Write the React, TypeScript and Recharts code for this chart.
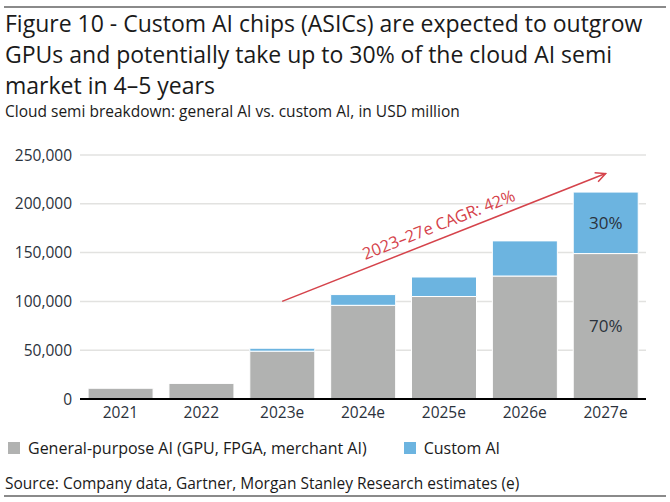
import { BarChart, Bar, XAxis, YAxis, CartesianGrid, ReferenceLine, LabelList } from 'recharts';

const years = ['2021', '2022', '2023e', '2024e', '2025e', '2026e', '2027e'];
const generalAI = [11000, 16000, 49000, 96000, 105000, 126000, 149000];
const customAI = [0, 0, 3000, 11000, 20000, 36000, 63000];
const generalShare = ['', '', '', '', '', '', '70%'];
const customShare = ['', '', '', '', '', '', '30%'];
const yTicks = [0, 50000, 100000, 150000, 200000, 250000];

const cagrStart = { x: '2023e', y: 100000 };
const cagrEnd = { x: '2027e', y: 231000 };
const cagrText = '2023–27e CAGR: 42%';

const data = years.map((year, i) => ({
  year,
  general: generalAI[i],
  custom: customAI[i],
  generalLabel: generalShare[i],
  customLabel: customShare[i],
}));

const FONT = '"Open Sans", sans-serif';
const GREY = '#b1b2b1';
const BLUE = '#6cb4e0';
const RED = '#d5434b';
const INK = '#2b323c';

const CagrArrow = (props: any) => {
  const { x1, y1, x2, y2 } = props;
  const angle = Math.atan2(y2 - y1, x2 - x1);
  const deg = (angle * 180) / Math.PI;
  const head = 11;
  const spread = 0.45;
  const ax = x2 - head * Math.cos(angle - spread);
  const ay = y2 - head * Math.sin(angle - spread);
  const bx = x2 - head * Math.cos(angle + spread);
  const by = y2 - head * Math.sin(angle + spread);
  const mx = x1 + (x2 - x1) * 0.5;
  const my = y1 + (y2 - y1) * 0.5;
  return (
    <g>
      <line x1={x1} y1={y1} x2={x2} y2={y2} stroke={RED} strokeWidth={1.5} />
      <polyline points={`${ax},${ay} ${x2},${y2} ${bx},${by}`} fill="none" stroke={RED} strokeWidth={1.5} />
      <text
        x={mx}
        y={my}
        dy={-8}
        textAnchor="middle"
        fill={RED}
        fontSize={16.5}
        fontFamily={FONT}
        transform={`rotate(${deg} ${mx} ${my})`}
      >
        {cagrText}
      </text>
    </g>
  );
};

export default function App() {
  return (
    <div style={{ position: 'absolute', left: 0, top: 0, width: 670, height: 502, background: '#fff', fontFamily: FONT, color: '#1a1a1a' }}>
      <div style={{ position: 'absolute', left: 4, top: 6, width: 662, height: 2, background: '#8a8a8a' }} />
      <div style={{ position: 'absolute', left: 5, top: 8, fontSize: 23, lineHeight: '31px', width: 660 }}>
        Figure 10 - Custom AI chips (ASICs) are expected to outgrow<br />
        GPUs and potentially take up to 30% of the cloud AI semi<br />
        market in 4–5 years
      </div>
      <div style={{ position: 'absolute', left: 5, top: 102, fontSize: 15.5, lineHeight: '18px' }}>
        Cloud semi breakdown: general AI vs. custom AI, in USD million
      </div>

      <div style={{ position: 'absolute', left: 0, top: 140 }}>
        <BarChart width={670} height={290} data={data} margin={{ top: 15, right: 24, bottom: 1, left: 0 }} barCategoryGap="10%">
          <CartesianGrid vertical={false} stroke="#e2e2e0" strokeWidth={1.5} />
          <XAxis
            dataKey="year"
            tickLine={false}
            axisLine={{ stroke: '#000', strokeWidth: 2 }}
            tick={{ fill: INK, fontSize: 15.5, fontFamily: FONT }}
            height={30}
          />
          <YAxis
            domain={[0, 250000]}
            ticks={yTicks}
            width={80}
            axisLine={false}
            tickLine={false}
            tick={{ fill: INK, fontSize: 15.5, fontFamily: FONT }}
            tickFormatter={(v: number) => v.toLocaleString('en-US')}
          />
          <Bar dataKey="general" stackId="a" fill={GREY} stroke="#fff" strokeWidth={1} isAnimationActive={false}>
            <LabelList dataKey="generalLabel" position="center" fill={INK} fontSize={17} fontFamily={FONT} />
          </Bar>
          <Bar dataKey="custom" stackId="a" fill={BLUE} stroke="#fff" strokeWidth={1} isAnimationActive={false}>
            <LabelList dataKey="customLabel" position="center" fill={INK} fontSize={17} fontFamily={FONT} />
          </Bar>
          <ReferenceLine segment={[cagrStart, cagrEnd]} shape={CagrArrow} />
        </BarChart>
      </div>

      <div style={{ position: 'absolute', left: 8, top: 438, display: 'flex', alignItems: 'center', fontSize: 16, lineHeight: '20px' }}>
        <span style={{ width: 12, height: 12, background: GREY, marginRight: 8 }} />
        <span>General-purpose AI (GPU, FPGA, merchant AI)</span>
        <span style={{ width: 12, height: 12, background: BLUE, marginLeft: 37, marginRight: 8 }} />
        <span>Custom AI</span>
      </div>
      <div style={{ position: 'absolute', left: 5, top: 473, fontSize: 15.5, lineHeight: '20px' }}>
        Source: Company data, Gartner, Morgan Stanley Research estimates (e)
      </div>
      <div style={{ position: 'absolute', left: 4, top: 495, width: 662, height: 2, background: '#8a8a8a' }} />
    </div>
  );
}
